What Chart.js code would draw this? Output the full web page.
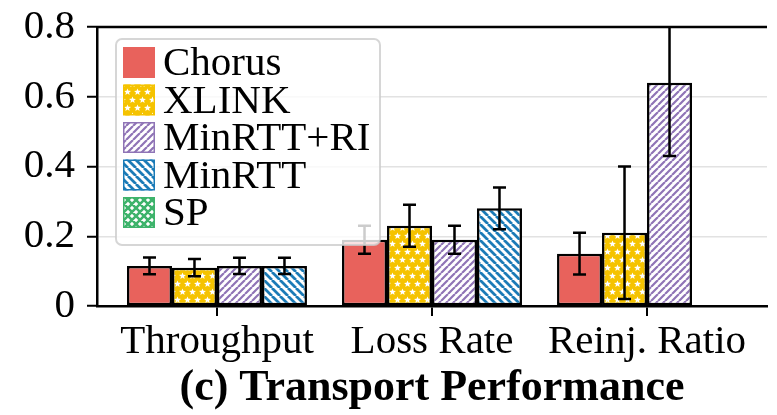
<!DOCTYPE html>
<html>
<head>
<meta charset="utf-8">
<script src="https://cdn.jsdelivr.net/npm/chart.js@4.4.1/dist/chart.umd.min.js"></script>
<style>
  html, body { margin: 0; padding: 0; background: #fff; }
  #wrap { width: 777px; height: 415px; }
</style>
</head>
<body>
<div id="wrap"><canvas id="c" width="777" height="415"></canvas></div>
<script>
// ---- data ----
const categories = ['Throughput', 'Loss Rate', 'Reinj. Ratio'];
const seriesNames = ['Chorus', 'XLINK', 'MinRTT+RI', 'MinRTT', 'SP'];
const chorus      = [0.115, 0.19, 0.15];
const chorusErr   = [0.024, 0.04, 0.06];
const xlink       = [0.11, 0.23, 0.21];
const xlinkErr    = [0.025, 0.06, 0.19];
const minrttRi    = [0.115, 0.19, 0.64];
const minrttRiErr = [0.023, 0.04, 0.21];
const minrtt      = [0.115, 0.28, null];
const minrttErr   = [0.023, 0.06, null];
const sp          = [null, null, null];
const yTicks = [0, 0.2, 0.4, 0.6, 0.8];
const title = '(c) Transport Performance';

const SERIF = '"Liberation Serif", "Times New Roman", serif';
const TICK_SIZE = 41;
Chart.defaults.font.family = SERIF;
Chart.defaults.color = '#000';

const canvas = document.getElementById('c');
const mainCtx = canvas.getContext('2d');

// ---- hatch fills ----
function makeTile(w, h, draw) {
  const c = document.createElement('canvas');
  c.width = w; c.height = h;
  const g = c.getContext('2d');
  draw(g, w, h);
  return mainCtx.createPattern(c, 'repeat');
}
function star(g, cx, cy, r) {
  g.beginPath();
  for (let k = 0; k < 10; k++) {
    const a = -Math.PI / 2 + k * Math.PI / 5;
    const rr = k % 2 ? r * 0.45 : r;
    g.lineTo(cx + rr * Math.cos(a), cy + rr * Math.sin(a));
  }
  g.closePath();
  g.fill();
}
function stripes(color, s, lw, dir) {
  return makeTile(s, s, (g) => {
    g.fillStyle = '#fff'; g.fillRect(0, 0, s, s);
    g.strokeStyle = color; g.lineWidth = lw;
    g.beginPath();
    for (let k = -1; k <= 1; k++) {
      if (dir > 0) { g.moveTo(k * s, s); g.lineTo(k * s + s, 0); }
      else { g.moveTo(k * s, 0); g.lineTo(k * s + s, s); }
    }
    g.stroke();
  });
}

const RED = '#e8625c', YELLOW = '#f5c300', PURPLE = '#8f74b6', BLUE = '#1b7bb7', GREEN = '#3db36b';

const starFill = makeTile(10, 16, (g, w, h) => {
  g.fillStyle = YELLOW; g.fillRect(0, 0, w, h);
  g.fillStyle = '#fff';
  for (const [x, y] of [[2.5, 4], [7.5, 12]]) {
    for (const dx of [-w, 0, w]) for (const dy of [-h, 0, h]) star(g, x + dx, y + dy, 3.6);
  }
});
const purpleFill = stripes(PURPLE, 7, 2.2, 1);
const blueFill = stripes(BLUE, 8, 2.8, -1);
const crossFill = makeTile(8, 8, (g, s) => {
  g.fillStyle = '#fff'; g.fillRect(0, 0, s, s);
  g.strokeStyle = GREEN; g.lineWidth = 2.6;
  g.beginPath();
  for (let k = -1; k <= 1; k++) {
    g.moveTo(k * s, s); g.lineTo(k * s + s, 0);
    g.moveTo(k * s, 0); g.lineTo(k * s + s, s);
  }
  g.stroke();
});

const toPoints = (arr) => arr.map((v, i) => ({ x: i, y: v }));

// ---- plugins ----
const errorBars = {
  id: 'errorBars',
  afterDatasetsDraw(chart) {
    const { ctx, chartArea: a, scales: { y } } = chart;
    ctx.save();
    ctx.beginPath();
    ctx.rect(a.left, a.top - 1, a.right - a.left, a.bottom - a.top + 2);
    ctx.clip();
    ctx.strokeStyle = '#000';
    ctx.lineWidth = 2.5;
    chart.data.datasets.forEach((ds, i) => {
      if (!ds.errors) return;
      const meta = chart.getDatasetMeta(i);
      meta.data.forEach((bar, j) => {
        const v = ds.data[j].y, e = ds.errors[j];
        if (v == null || e == null) return;
        const x = bar.x;
        const yt = y.getPixelForValue(v + e), yb = y.getPixelForValue(v - e);
        ctx.beginPath();
        ctx.moveTo(x, yt); ctx.lineTo(x, yb);
        ctx.moveTo(x - 6.5, yt); ctx.lineTo(x + 6.5, yt);
        ctx.moveTo(x - 6.5, yb); ctx.lineTo(x + 6.5, yb);
        ctx.stroke();
      });
    });
    ctx.restore();
    // top spine
    ctx.save();
    ctx.strokeStyle = '#000';
    ctx.lineWidth = 2.5;
    ctx.beginPath();
    ctx.moveTo(a.left - 1, a.top); ctx.lineTo(a.right, a.top);
    ctx.stroke();
    ctx.restore();
  }
};

const boxedLegend = {
  id: 'boxedLegend',
  afterDraw(chart) {
    const { ctx, chartArea: a } = chart;
    const fx = a.left + 19, fy = a.top + 12, fw = 264, fh = 206, r = 6;
    ctx.save();
    ctx.beginPath();
    ctx.roundRect(fx, fy, fw, fh, r);
    ctx.fillStyle = 'rgba(255,255,255,0.8)';
    ctx.fill();
    ctx.lineWidth = 2;
    ctx.strokeStyle = 'rgba(204,204,204,0.8)';
    ctx.stroke();
    ctx.font = TICK_SIZE + 'px ' + SERIF;
    ctx.textBaseline = 'alphabetic';
    chart.data.datasets.forEach((ds, i) => {
      const top = fy + 8 + i * 37.5;
      const left = fx + 7;
      ctx.fillStyle = ds.backgroundColor;
      ctx.fillRect(left, top, 32, 31);
      ctx.strokeStyle = ds.hatchColor;
      ctx.lineWidth = 1.5;
      ctx.strokeRect(left + 0.75, top + 0.75, 30.5, 29.5);
      ctx.fillStyle = '#000';
      ctx.fillText(ds.label, left + 40, top + 28);
    });
    ctx.restore();
  }
};

const bottomTitle = {
  id: 'bottomTitle',
  afterDraw(chart) {
    const { ctx, chartArea: a } = chart;
    ctx.save();
    ctx.font = 'bold 44px ' + SERIF;
    ctx.fillStyle = '#000';
    ctx.textAlign = 'center';
    ctx.textBaseline = 'alphabetic';
    ctx.fillText(title, (a.left + a.right) / 2, 400);
    ctx.restore();
  }
};

// ---- chart ----
const barCommon = {
  borderColor: '#000',
  borderWidth: 2.5,
  borderSkipped: false,
  categoryPercentage: 0.837,
  barPercentage: 1.0
};

new Chart(canvas, {
  type: 'bar',
  data: {
    datasets: [
      { ...barCommon, label: seriesNames[0], data: toPoints(chorus), errors: chorusErr, backgroundColor: RED, hatchColor: RED },
      { ...barCommon, label: seriesNames[1], data: toPoints(xlink), errors: xlinkErr, backgroundColor: starFill, hatchColor: YELLOW },
      { ...barCommon, label: seriesNames[2], data: toPoints(minrttRi), errors: minrttRiErr, backgroundColor: purpleFill, hatchColor: PURPLE },
      { ...barCommon, label: seriesNames[3], data: toPoints(minrtt), errors: minrttErr, backgroundColor: blueFill, hatchColor: BLUE },
      { ...barCommon, label: seriesNames[4], data: toPoints(sp), grouped: false, backgroundColor: crossFill, hatchColor: GREEN }
    ]
  },
  options: {
    responsive: false,
    devicePixelRatio: 1,
    animation: false,
    layout: { padding: { left: 0, top: 27, right: 10, bottom: 0 } },
    plugins: { legend: { display: false }, tooltip: { enabled: false }, title: { display: false } },
    scales: {
      x: {
        type: 'linear',
        bounds: 'data',
        min: -0.558,
        max: 2.558,
        offset: false,
        afterBuildTicks: (s) => { s.ticks = categories.map((_, i) => ({ value: i })); },
        ticks: {
          callback: (v) => categories[Math.round(v)],
          font: { size: TICK_SIZE, family: SERIF },
          color: '#000',
          padding: 2,
          maxRotation: 0,
          autoSkip: false
        },
        grid: { offset: false, drawOnChartArea: false, color: '#000', tickColor: '#000', tickLength: 10, tickWidth: 2, lineWidth: 2 },
        border: { color: '#000', width: 2.5 },
        afterFit: (s) => { s.height = 109; s.paddingLeft = 0; s.paddingRight = 0; }
      },
      y: {
        min: 0,
        max: 0.8,
        afterBuildTicks: (s) => { s.ticks = yTicks.map((v) => ({ value: v })); },
        ticks: {
          callback: (v) => (v === 0 ? '0' : v.toFixed(1)),
          font: { size: TICK_SIZE, family: SERIF },
          color: '#000',
          padding: 12
        },
        grid: {
          color: (c) => (c.tick && c.tick.value > 0 && c.tick.value < 0.8 ? '#e2e2e2' : 'rgba(0,0,0,0)'),
          lineWidth: 1.5,
          tickColor: '#000',
          tickLength: 10,
          tickWidth: 2
        },
        border: { color: '#000', width: 2.5 },
        afterFit: (s) => { s.width = 97; s.paddingTop = 0; s.paddingBottom = 0; }
      }
    }
  },
  plugins: [errorBars, boxedLegend, bottomTitle]
});
</script>
</body>
</html>
